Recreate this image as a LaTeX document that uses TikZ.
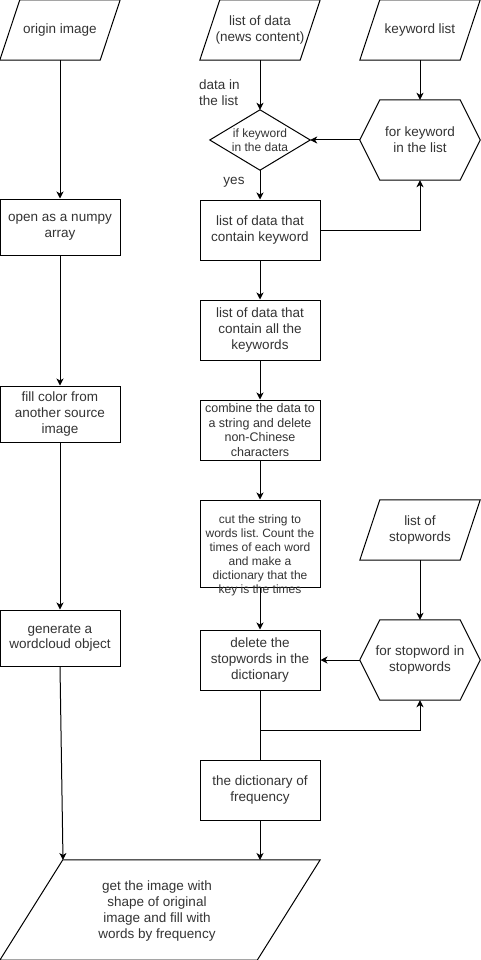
\documentclass[tikz,border=0pt]{standalone}
\usepackage{fontspec}
\setmainfont{Liberation Sans}
\usetikzlibrary{arrows.meta,calc}
\definecolor{txt}{HTML}{333333}
\frenchspacing
\newcommand{\mainsz}{\fontsize{13.5}{15.8}\selectfont}
\newcommand{\smallsz}{\fontsize{12}{14.3}\selectfont}
\newcommand{\para}[2]{\draw[line width=1pt] ($(#1.north west)+(#2,0)$) -- (#1.north east) -- ($(#1.south east)+(-#2,0)$) -- (#1.south west) -- cycle;}
\newcommand{\hexa}[1]{\draw[line width=1pt] (#1.west) -- ($(#1.north west)+(20,0)$) -- ($(#1.north east)+(-20,0)$) -- (#1.east) -- ($(#1.south east)+(-20,0)$) -- ($(#1.south west)+(20,0)$) -- cycle;}
\begin{document}
\begin{tikzpicture}[x=1pt,y=-1pt,
  frame/.style={minimum width=120pt, minimum height=60pt, inner sep=0pt, align=center, text=txt, font=\mainsz},
  box/.style={frame, draw, line width=1pt},
  arr/.style={line width=1pt, -{Stealth[length=7pt,width=7pt,inset=2pt]}},
  ln/.style={line width=1pt},
  lbl/.style={inner sep=0pt, text=txt, font=\mainsz}]
\useasboundingbox (0,0) rectangle (481,960);
% left column
\node[frame] (orig) at (60,30) {origin image};
\para{orig}{20}
\node[box, minimum height=56pt] (open) at (60,227) {open as a numpy\\array};
\node[box, minimum height=56pt] (fill) at (60,414) {fill color from\\another source\\image};
\node[box, minimum height=56pt] (gen) at (60,638) {generate a\\wordcloud object};
\node[frame, minimum width=320pt, minimum height=100pt] (final) at (160,910) {};
\para{final}{63}
\node[lbl, align=center] (finaltext) at (157,911) {get the image with\\shape of original\\image and fill with\\words by frequency};
% middle column
\node[frame] (lod) at (260,30) {list of data\\(news content)};
\para{lod}{20}
\node[frame, minimum width=100pt, minimum height=60pt, font=\smallsz] (dia) at (260,140) {if keyword\\in the data};
\draw[ln] (dia.west) -- (dia.north) -- (dia.east) -- (dia.south) -- cycle;
\node[box] (c1) at (260,230) {list of data that\\contain keyword};
\node[box] (c2) at (260,330) {list of data that\\contain all the\\keywords};
\node[box, font=\fontsize{12.5}{14.5}\selectfont] (c3) at (260,430) {combine the data to\\a string and delete\\non-Chinese\\characters};
\node[box, minimum height=87pt] (c4) at (260,543.5) {};
\node[lbl, align=center, font=\fontsize{12}{14}\selectfont] (c4t) at (260,555) {cut the string to\\words list. Count the\\times of each word\\and make a\\dictionary that the\\key is the times};
\node[box] (c5) at (260,660) {delete the\\stopwords in the\\dictionary};
\node[box] (c6) at (260,790) {the dictionary of\\frequency};
% right column
\node[frame] (kwl) at (420,30) {keyword list};
\para{kwl}{20}
\node[frame, minimum height=80pt] (forkw) at (420,140) {for keyword\\in the list};
\hexa{forkw}
\node[frame] (sw) at (420,530) {list of\\stopwords};
\para{sw}{20}
\node[frame, minimum height=80pt] (forsw) at (420,660) {for stopword in\\stopwords};
\hexa{forsw}
% labels
\node[lbl, anchor=west, align=left] (dl) at (199,93) {data in\\the list};
\node[lbl] (yes) at (234,182) {yes};
% connectors
\draw[arr] (orig.south) -- (open.north);
\draw[arr] (open.south) -- (fill.north);
\draw[arr] (fill.south) -- (gen.north);
\coordinate (fin1) at (63,860);
\draw[arr] (gen.south) -- (fin1);
\draw[arr] (lod.south) -- (dia.north);
\draw[arr] (dia.south) -- (c1.north);
\draw[arr] (kwl.south) -- (forkw.north);
\draw[arr] (forkw.west) -- (dia.east);
\draw[arr] (c1.east) -| (forkw.south);
\draw[arr] (c1.south) -- (c2.north);
\draw[arr] (c2.south) -- (c3.north);
\draw[arr] (c3.south) -- (c4.north);
\draw[arr] (c4.south) -- (c5.north);
\draw[arr] (sw.south) -- (forsw.north);
\draw[arr] (forsw.west) -- (c5.east);
\draw[ln] (c5.south) -- (c6.north);
\coordinate (br) at (260,730);
\draw[arr] (br) -| (forsw.south);
\coordinate (fin2) at (260,860);
\draw[arr] (c6.south) -- (fin2);
\end{tikzpicture}
\end{document}
